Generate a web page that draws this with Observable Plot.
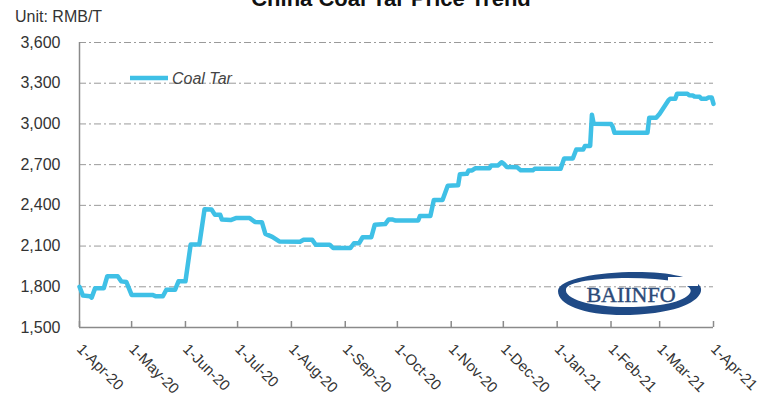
<!DOCTYPE html>
<html>
<head>
<meta charset="utf-8">
<script src="https://cdn.jsdelivr.net/npm/d3@7"></script>
<script src="https://cdn.jsdelivr.net/npm/@observablehq/plot@0.6"></script>
<style>
  html, body { margin: 0; padding: 0; background: #fff; }
  #chart { position: relative; width: 775px; height: 401px; overflow: hidden; }
</style>
</head>
<body>
<div id="chart"></div>
<script>
const title = "China Coal Tar Price Trend";
const unitLabel = "Unit: RMB/T";
const seriesName = "Coal Tar";
const logoText = "BAIINFO";

const dates = [
  "2020-04-01","2020-04-03","2020-04-07","2020-04-08","2020-04-10","2020-04-15","2020-04-17","2020-04-23",
  "2020-04-25","2020-04-28","2020-05-01","2020-05-13","2020-05-15","2020-05-19","2020-05-21","2020-05-26",
  "2020-05-28","2020-06-01","2020-06-04","2020-06-09","2020-06-12","2020-06-16","2020-06-18","2020-06-21",
  "2020-06-22","2020-06-27","2020-06-30","2020-07-08","2020-07-11","2020-07-15","2020-07-17","2020-07-21",
  "2020-07-25","2020-08-06","2020-08-08","2020-08-13","2020-08-15","2020-08-23","2020-08-25","2020-09-04",
  "2020-09-06","2020-09-09","2020-09-11","2020-09-16","2020-09-18","2020-09-24","2020-09-26","2020-09-28",
  "2020-09-30","2020-10-13","2020-10-14","2020-10-20","2020-10-22","2020-10-27","2020-10-30","2020-11-05",
  "2020-11-06","2020-11-10","2020-11-11","2020-11-13","2020-11-15","2020-11-23","2020-11-24","2020-11-28",
  "2020-11-30","2020-12-01","2020-12-03","2020-12-09","2020-12-11","2020-12-18","2020-12-19","2021-01-03",
  "2021-01-05","2021-01-10","2021-01-12","2021-01-16","2021-01-17","2021-01-20","2021-01-21","2021-01-22",
  "2021-02-01","2021-02-02","2021-02-03","2021-02-22","2021-02-23","2021-02-27","2021-03-01","2021-03-06",
  "2021-03-07","2021-03-10","2021-03-11","2021-03-17","2021-03-18","2021-03-20","2021-03-21","2021-03-24",
  "2021-03-25","2021-03-28","2021-03-29","2021-03-31","2021-04-01"
];
const values = [
  1800,1735,1730,1720,1790,1790,1878,1878,
  1840,1835,1740,1740,1730,1730,1778,1778,
  1840,1840,2112,2112,2372,2370,2330,2330,
  2295,2292,2306,2306,2278,2276,2190,2168,
  2134,2132,2146,2146,2110,2110,2086,2086,
  2121,2121,2165,2165,2258,2262,2296,2296,
  2288,2288,2322,2322,2440,2440,2545,2548,
  2630,2632,2657,2657,2674,2674,2694,2694,
  2718,2710,2682,2680,2658,2658,2669,2670,
  2745,2745,2812,2812,2838,2838,3068,3002,
  3000,2978,2935,2935,3045,3045,3075,3173,
  3185,3185,3222,3222,3212,3210,3202,3200,
  3186,3186,3194,3194,3148
];
const yTicks = [1500, 1800, 2100, 2400, 2700, 3000, 3300, 3600];
const xTicks = ["2020-04-01","2020-05-01","2020-06-01","2020-07-01","2020-08-01","2020-09-01","2020-10-01",
                "2020-11-01","2020-12-01","2021-01-01","2021-02-01","2021-03-01","2021-04-01"];

const data = dates.map((d, i) => ({date: new Date(d + "T00:00:00Z"), value: values[i]}));
const xTickDates = xTicks.map(d => new Date(d + "T00:00:00Z"));
const fmt = d3.utcFormat("%-d-%b-%y");

const lineColor = "#3fc0e6";
const axisColor = "#8a8a8a";
const sans = "Liberation Sans, Arial, sans-serif";

const plot = Plot.plot({
  width: 775,
  height: 401,
  marginLeft: 79,
  marginRight: 62,
  marginTop: 42,
  marginBottom: 74,
  style: {fontFamily: sans, fontSize: "16px", color: "#333", background: "#fff"},
  x: {type: "utc", domain: [xTickDates[0], xTickDates[xTickDates.length - 1]]},
  y: {domain: [1500, 3600]},
  marks: [
    Plot.gridY(yTicks.filter(t => t > 1500), {stroke: "#9a9a9a", strokeOpacity: 1, strokeWidth: 1, strokeDasharray: "7,3,2,3"}),
    Plot.axisY(yTicks, {tickSize: 0, tickPadding: 19, tickFormat: d3.format(","), label: null, fontSize: 16, fill: "#333"}),
    Plot.axisX(xTickDates, {tickSize: 0, tickPadding: 19, tickRotate: 45, tickFormat: fmt, label: null, fontSize: 15, fill: "#333"}),
    Plot.tickX(xTickDates, {insetTop: 279, stroke: axisColor, strokeWidth: 1.5}),
    Plot.ruleY([1500], {stroke: axisColor, strokeWidth: 1.5}),
    Plot.ruleX([xTickDates[0]], {stroke: axisColor, strokeWidth: 1.5}),
    Plot.line(data, {x: "date", y: "value", stroke: lineColor, strokeWidth: 4.5, strokeLinejoin: "round", strokeLinecap: "round"})
  ]
});

document.getElementById("chart").appendChild(plot);

const svg = d3.select(plot);
// Title (clipped at top as in reference)
svg.append("text").attr("x", 391).attr("y", 6).attr("text-anchor", "middle")
  .style("font-family", sans).attr("font-size", 22).attr("font-weight", "bold").attr("fill", "#111").text(title);
// Unit
svg.append("text").attr("x", 15).attr("y", 22).attr("text-anchor", "start")
  .style("font-family", sans).attr("font-size", 16).attr("fill", "#333").text(unitLabel);
// Legend
svg.append("line").attr("x1", 130).attr("x2", 168).attr("y1", 78).attr("y2", 78)
  .attr("stroke", lineColor).attr("stroke-width", 4.5);
svg.append("text").attr("x", 172).attr("y", 84).attr("text-anchor", "start")
  .style("font-family", sans).attr("font-size", 16).attr("font-style", "italic")
  .attr("fill", "#444").text(seriesName);
// Logo
const logo = svg.append("g");
logo.append("path")
  .attr("fill", "#1f4a86").attr("fill-rule", "evenodd")
  .attr("d", "M558,291 C558,276 620,269 660,273 C690,276 703,284 701,291 C699,301 680,313 630,315 C584,316 558,305 558,291 Z " +
             "M566,289 C568,280 615,276 655,279 C682,281 694,287 690,293 C684,302 660,307 628,307 C590,307 564,299 566,289 Z");
logo.append("rect").attr("x", 668).attr("y", 277).attr("width", 30).attr("height", 9).attr("fill", "#fff");
logo.append("text").attr("x", 631).attr("y", 302).attr("text-anchor", "middle")
  .style("font-family", "Liberation Serif, Times New Roman, serif").attr("font-size", 22)
  .attr("stroke", "#2c4a78").attr("stroke-width", 0.4)
  .attr("fill", "#2c4a78").text(logoText);
</script>
</body>
</html>
